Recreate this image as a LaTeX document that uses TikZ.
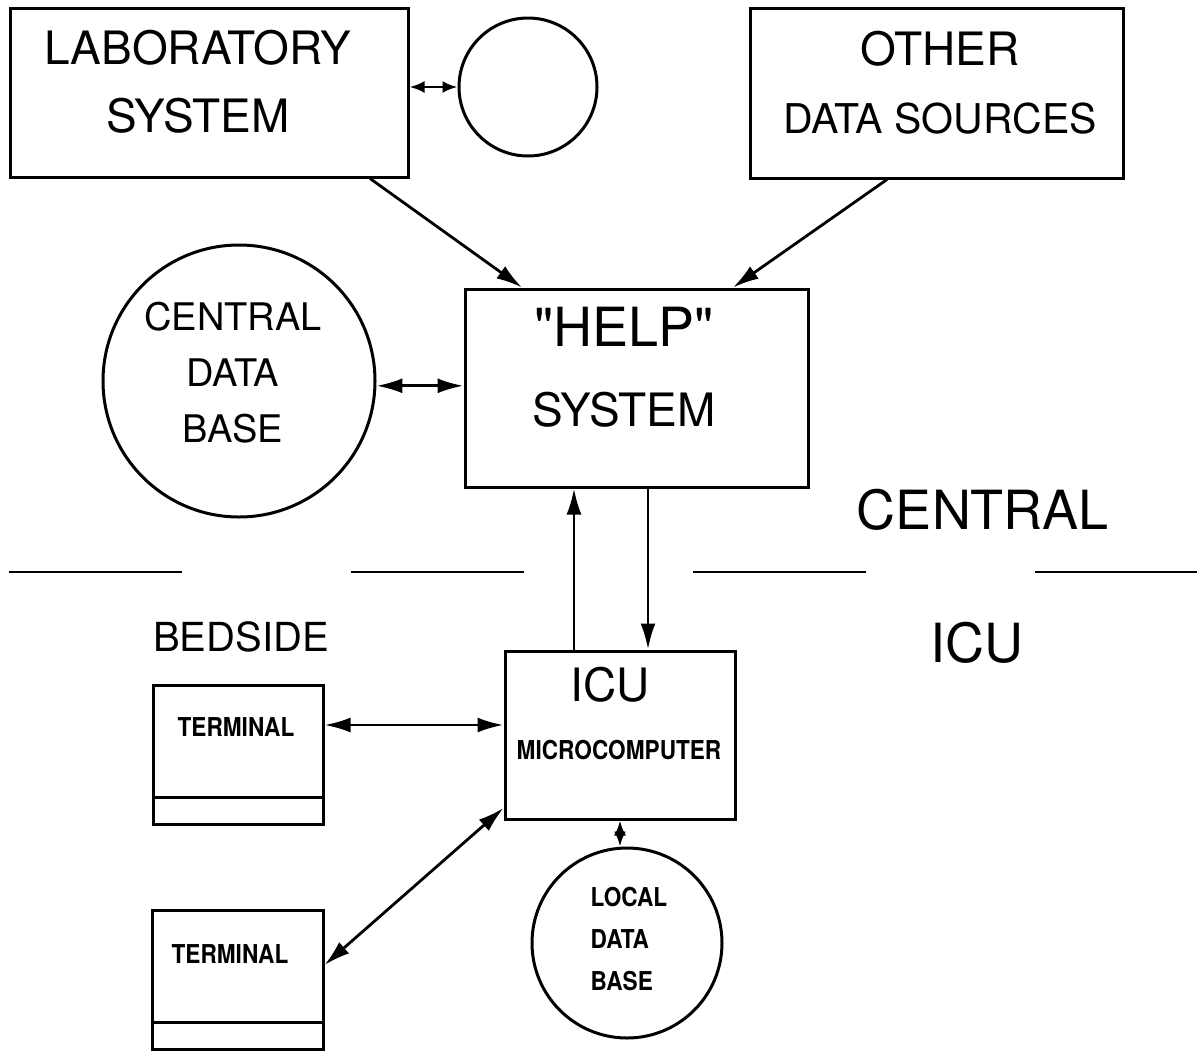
\documentclass[tikz,border=0pt]{standalone}
\usepackage{fontspec}
\setmainfont{TeX Gyre Heros}[Ligatures=TeXOff]
\newfontfamily\narbold[FakeStretch=0.87]{TeX Gyre Heros}
\usetikzlibrary{arrows.meta}
\begin{document}
\begin{tikzpicture}[x=1pt,y=-1pt,
  box/.style={draw,line width=3pt,inner sep=0pt,rectangle},
  dbcircle/.style={draw,line width=3pt,circle,inner sep=0pt},
  txt/.style={inner sep=0pt,align=center},
  boldtxt/.style={inner sep=0pt,align=center,font=\narbold\bfseries\fontsize{26}{42}\selectfont},
  conn/.style={line width=2.8pt},
  tip/.style={-{Latex[length=26pt,width=15pt]}},
  bi/.style={{Latex[length=26pt,width=15pt]}-{Latex[length=26pt,width=15pt]}},
  smallbi/.style={{Latex[length=15pt,width=12pt]}-{Latex[length=15pt,width=12pt]}},
  divider/.style={line width=2.8pt,dash pattern=on 173pt off 169pt},
  sepline/.style={line width=3pt}
]
\path[fill=white,use as bounding box] (0,0) rectangle (1200,1053);

% boxes and circles
\node[box,minimum width=398pt,minimum height=169pt] (lab) at (209,92.5) {};
\node[dbcircle,minimum size=138pt] (small) at (528,87) {};
\node[box,minimum width=373pt,minimum height=170pt] (other) at (936.5,93) {};
\node[dbcircle,minimum size=272pt] (cdb) at (239,381) {};
\node[box,minimum width=343pt,minimum height=198pt] (help) at (636.5,388) {};
\node[box,minimum width=230pt,minimum height=168pt] (icu) at (620,735) {};
\node[box,minimum width=170pt,minimum height=139pt] (term1) at (238,754.5) {};
\node[box,minimum width=171pt,minimum height=139pt] (term2) at (237.5,979.5) {};
\node[dbcircle,minimum size=190pt] (ldb) at (627,943) {};

% texts
\node[txt,font=\fontsize{46}{68}\selectfont] (labT) at (198,82) {LABORATORY\\SYSTEM};
\node[txt,font=\fontsize{46}{68}\selectfont] (otherT) at (940,83) {OTHER\\{\fontsize{41}{68}\selectfont DATA SOURCES}};
\node[txt,font=\fontsize{38}{56}\selectfont] (cdbT) at (233,373) {CENTRAL\\DATA\\BASE};
\node[txt,font=\fontsize{46}{80}\selectfont] (helpT) at (624,367.5) {{\fontsize{54}{80}\selectfont "HELP"}\\SYSTEM};
\node[txt,font=\fontsize{54}{60}\selectfont] (centralT) at (983,510) {CENTRAL};
\node[txt,font=\fontsize{54}{60}\selectfont] (icuR) at (977,643) {ICU};
\node[txt,font=\fontsize{40}{48}\selectfont] (bedT) at (241,637) {BEDSIDE};
\node[txt,font=\fontsize{46}{50}\selectfont] (icuT) at (610,685) {ICU};
\node[boldtxt] (microT) at (619,750) {MICROCOMPUTER};
\node[boldtxt] (term1T) at (236,727) {TERMINAL};
\node[boldtxt] (term2T) at (230,954) {TERMINAL};
\node[boldtxt,align=left] (ldbT) at (629,939) {LOCAL\\DATA\\BASE};

% terminal separators
\coordinate (t1d) at (0,797);
\coordinate (t2d) at (0,1022);
\draw[sepline] (term1.west |- t1d) -- (term1.east |- t1d);
\draw[sepline] (term2.west |- t2d) -- (term2.east |- t2d);

% divider
\coordinate (dL) at (9,572);
\coordinate (dR) at (1197,572);
\draw[divider] (dL) -- (dR);

% connectors
\draw[conn,smallbi] (lab.east |- small.west) -- (small.west);
\draw[conn,tip] ([xshift=161pt]lab.south) -- ([xshift=-114.5pt]help.north);
\draw[conn,tip] ([xshift=-49.5pt]other.south) -- ([xshift=96.5pt]help.north);
\draw[conn,bi] (cdb.-2) -- (cdb.-2 -| help.west);
\coordinate (xu) at (574,0);
\coordinate (xd) at (648,0);
\draw[conn,tip] (icu.north -| xu) -- (help.south -| xu);
\draw[conn,tip] (help.south -| xd) -- (icu.north -| xd);
\coordinate (yt) at (0,725);
\draw[conn,bi] (term1.east |- yt) -- (icu.west |- yt);
\coordinate (yta) at (0,965);
\coordinate (ytb) at (0,808);
\draw[conn,bi] (term2.east |- yta) -- (icu.west |- ytb);
\coordinate (xl) at (620,0);
\draw[conn,smallbi] (icu.south -| xl) -- (ldb.north -| xl);
\end{tikzpicture}
\end{document}
